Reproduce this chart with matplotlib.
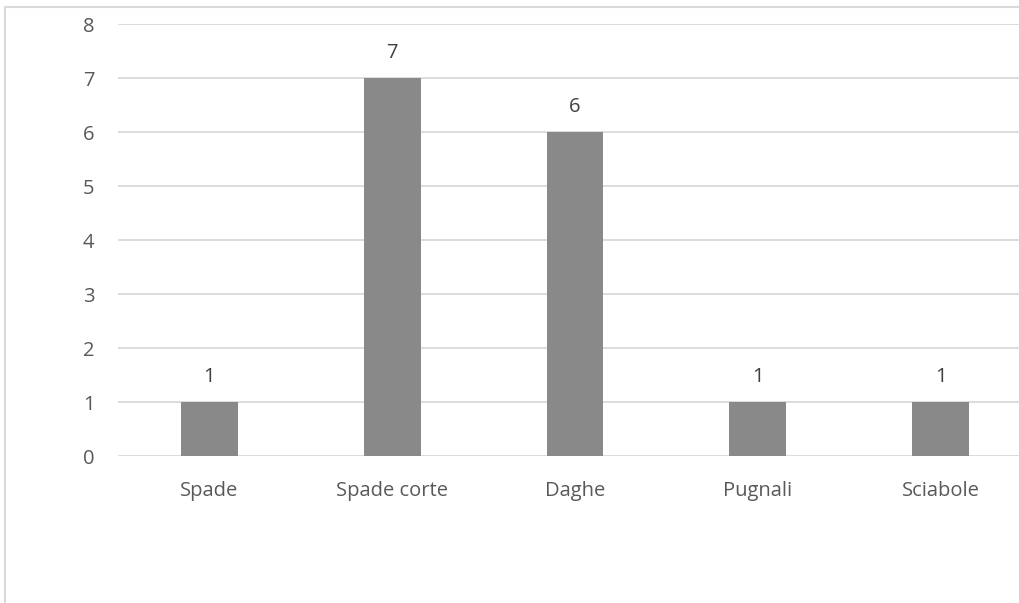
import matplotlib
matplotlib.use('Agg')
import matplotlib.pyplot as plt
from matplotlib.patches import Rectangle

categorie = ['Spade', 'Spade corte', 'Daghe', 'Pugnali', 'Sciabole']
valori = [1, 7, 6, 1, 1]

W, H = 1019, 603
fig = plt.figure(figsize=(W / 100, H / 100), dpi=100)
plt.rcParams['font.family'] = ['Open Sans', 'DejaVu Sans']

# cornice del grafico (esce dal bordo a destra e in basso)
fig.patches.append(Rectangle((5 / W, -0.1), 1.2, (H - 7) / H + 0.1,
                             transform=fig.transFigure, fill=False,
                             edgecolor='#d9d9d9', linewidth=1.5))

ax = fig.add_axes([118 / W, (H - 456) / H, (1032 - 118) / W, (456 - 24) / H])
x = list(range(len(categorie)))
ax.bar(x, valori, width=0.31, color='#898989', zorder=3)
for xi, v in zip(x, valori):
    ax.text(xi, v + 0.27, str(v), ha='center', va='bottom', fontsize=14.5, color='#404040')

ax.set_xlim(-0.5, len(categorie) - 0.5)
ax.set_ylim(0, 8)
ax.set_yticks(range(0, 9))
ax.set_xticks(x)
ax.set_xticklabels(categorie)
ax.grid(axis='y', color='#d9d9d9', linewidth=1.3, zorder=0)
for s in ax.spines.values():
    s.set_visible(False)
ax.tick_params(axis='both', length=0, labelsize=14.5, colors='#595959')
ax.tick_params(axis='y', pad=17)
ax.tick_params(axis='x', pad=18)

fig.savefig('out.png', dpi=100)
